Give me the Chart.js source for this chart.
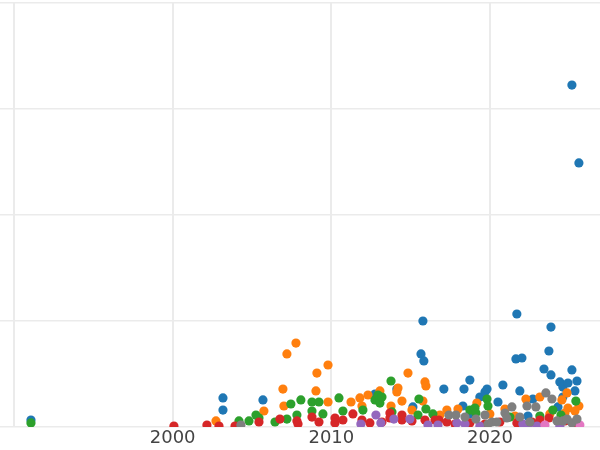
<!DOCTYPE html>
<html>
<head>
<meta charset="utf-8">
<script src="https://cdn.jsdelivr.net/npm/chart.js@4/dist/chart.umd.min.js"></script>
<style>
html,body{margin:0;padding:0;background:#fff;}
#wrap{width:600px;height:450px;position:relative;}
</style>
</head>
<body>
<div id="wrap"><canvas id="c"></canvas></div>
<script>
// Series data: years (x) and values (y)
const blueX = [1991.07,2003.17,2003.17,2005.69,2012.75,2014.13,2015.14,2015.77,2015.65,2015.83,2017.09,2018.29,2018.36,2018.73,2019.36,2019.68,2019.81,2020.50,2020.81,2021.69,2021.63,2022.01,2021.88,2022.70,2023.84,2023.71,2023.40,2023.84,2024.28,2024.40,2024.59,2024.59,2024.91,2025.16,2025.35,2025.48,2025.16,2025.60,2018.73,2022.39];
const blueY = [0.66,2.74,1.60,2.55,3.11,3.58,1.89,10.0,6.89,6.23,3.58,1.98,3.58,4.43,2.83,3.30,3.58,2.36,3.96,10.66,6.42,6.51,3.40,2.64,9.43,7.17,5.47,4.91,1.89,4.25,3.77,2.83,4.15,5.38,3.40,4.34,32.26,24.91,1.23,1.04];

const orangeX = [2002.73,2005.75,2006.95,2007.01,2007.20,2007.77,2009.03,2009.09,2009.79,2009.79,2011.24,2011.80,2011.93,2012.31,2013.06,2013.76,2014.13,2014.20,2014.45,2014.83,2015.08,2015.77,2015.90,2015.96,2017.28,2017.98,2019.17,2019.99,2020.94,2022.26,2023.14,2024.53,2024.85,2024.91,2025.60,2025.35,2024.72,2016.84,2021.57,2023.77];
const orangeY = [0.57,1.51,3.58,1.98,6.89,7.92,3.40,5.09,5.85,2.36,2.36,2.74,1.98,3.02,3.40,1.98,3.30,3.68,2.45,5.09,1.60,2.45,4.25,3.87,1.60,1.70,2.26,1.23,1.70,2.64,2.83,2.55,3.21,1.79,1.98,1.51,1.32,1.13,1.04,1.23];

const greenX = [1991.07,2004.18,2004.81,2005.25,2005.44,2006.45,2007.20,2007.45,2007.83,2008.08,2008.78,2008.78,2009.22,2009.47,2010.48,2010.73,2011.99,2012.75,2012.94,2013.06,2013.19,2013.76,2013.82,2015.52,2015.46,2015.96,2016.40,2018.73,2019.05,2019.11,2019.81,2019.87,2023.96,2024.47,2025.41,2023.14,2021.25];
const greenY = [0.38,0.57,0.57,1.13,0.85,0.47,0.75,2.17,1.13,2.55,2.36,1.51,2.36,1.23,2.74,1.51,1.60,2.55,3.02,2.26,2.83,4.34,1.42,2.64,1.13,1.70,1.23,1.60,1.79,1.32,2.64,1.98,1.60,1.13,2.45,1.04,0.94];

const redX = [2000.08,2002.16,2002.92,2003.93,2005.44,2006.76,2007.83,2007.90,2008.78,2009.22,2010.23,2010.23,2010.73,2011.36,2011.93,2012.43,2013.19,2013.69,2013.69,2014.45,2014.45,2015.08,2015.90,2016.53,2016.78,2017.28,2017.79,2018.73,2019.68,2020.62,2021.69,2022.64,2023.14,2023.71,2024.72,2025.48];
const redY = [0.09,0.19,0.09,0.09,0.47,0.75,0.57,0.28,0.94,0.47,0.85,0.38,0.66,1.23,0.66,0.38,0.47,1.32,0.85,1.13,0.66,0.57,0.66,0.66,0.66,0.47,0.28,0.38,0.28,0.47,0.38,0.47,0.66,0.85,0.57,0.28];

const purpleX = [2011.86,2012.81,2013.12,2013.94,2014.95,2016.09,2016.72,2017.91,2018.42,2019.36,2022.07,2022.39,2022.96,2024.40];
const purpleY = [0.28,1.13,0.38,0.75,0.75,0.19,0.19,0.38,0.28,0.09,0.28,0.09,0.09,0.09];

const pinkX = [2023.46,2025.66];
const pinkY = [0.19,0.19];

const grayX = [2004.30,2017.41,2017.85,2018.42,2019.11,2019.68,2019.87,2020.12,2020.43,2020.94,2021.06,2021.38,2021.88,2022.33,2022.51,2022.89,2023.52,2023.90,2024.22,2024.59,2024.85,2025.16,2025.48];
const grayY = [0.19,1.13,1.13,0.94,0.75,1.13,0.28,0.47,0.47,1.32,0.85,1.89,0.94,1.98,0.47,1.89,3.21,2.64,0.57,0.57,0.75,0.38,0.75];

const xTicks = [1990, 2000, 2010, 2020];
const hiddenTickLabels = [1990];

function pts(xs, ys){ return xs.map((x,i)=>({x:x, y:ys[i]})); }

const series = [
  {name:'blue',   xs:blueX,   ys:blueY,   color:'#1f77b4'},
  {name:'orange', xs:orangeX, ys:orangeY, color:'#ff7f0e'},
  {name:'green',  xs:greenX,  ys:greenY,  color:'#2ca02c'},
  {name:'red',    xs:redX,    ys:redY,    color:'#d62728'},
  {name:'purple', xs:purpleX, ys:purpleY, color:'#9467bd'},
  {name:'pink',   xs:pinkX,   ys:pinkY,   color:'#e377c2'},
  {name:'gray',   xs:grayX,   ys:grayY,   color:'#7f7f7f'}
];

const datasets = series.map((s, i) => ({
  label: s.name,
  data: pts(s.xs, s.ys),
  backgroundColor: s.color,
  borderWidth: 0,
  pointRadius: 4.6,
  pointHoverRadius: 4.6,
  order: series.length - i
}));

new Chart(document.getElementById('c'), {
  type: 'scatter',
  data: { datasets },
  options: {
    responsive: true,
    maintainAspectRatio: false,
    animation: false,
    layout: { autoPadding: false, padding: { top: 3, left: 0, right: 0, bottom: 0 } },
    plugins: { legend: { display: false }, tooltip: { enabled: false } },
    scales: {
      x: {
        type: 'linear',
        min: 1989.12,
        max: 2026.93,
        afterBuildTicks: (axis) => { axis.ticks = xTicks.map(v => ({value: v})); },
        afterFit: (axis) => { axis.height = 23; axis.paddingLeft = 0; axis.paddingRight = 0; },
        ticks: {
          includeBounds: false,
          autoSkip: false,
          maxRotation: 0,
          padding: 1,
          color: '#444444',
          font: { family: 'DejaVu Sans', size: 18 },
          callback: (v) => hiddenTickLabels.includes(v) ? '' : String(v)
        },
        grid: { color: '#ebebeb', lineWidth: 2, drawTicks: false },
        border: { display: false }
      },
      y: {
        min: 0,
        max: 40,
        afterFit: (axis) => { axis.width = 0; },
        ticks: { display: false, stepSize: 10 },
        grid: { color: '#ebebeb', lineWidth: 1.5, drawTicks: false },
        border: { display: false }
      }
    }
  }
});
</script>
</body>
</html>
